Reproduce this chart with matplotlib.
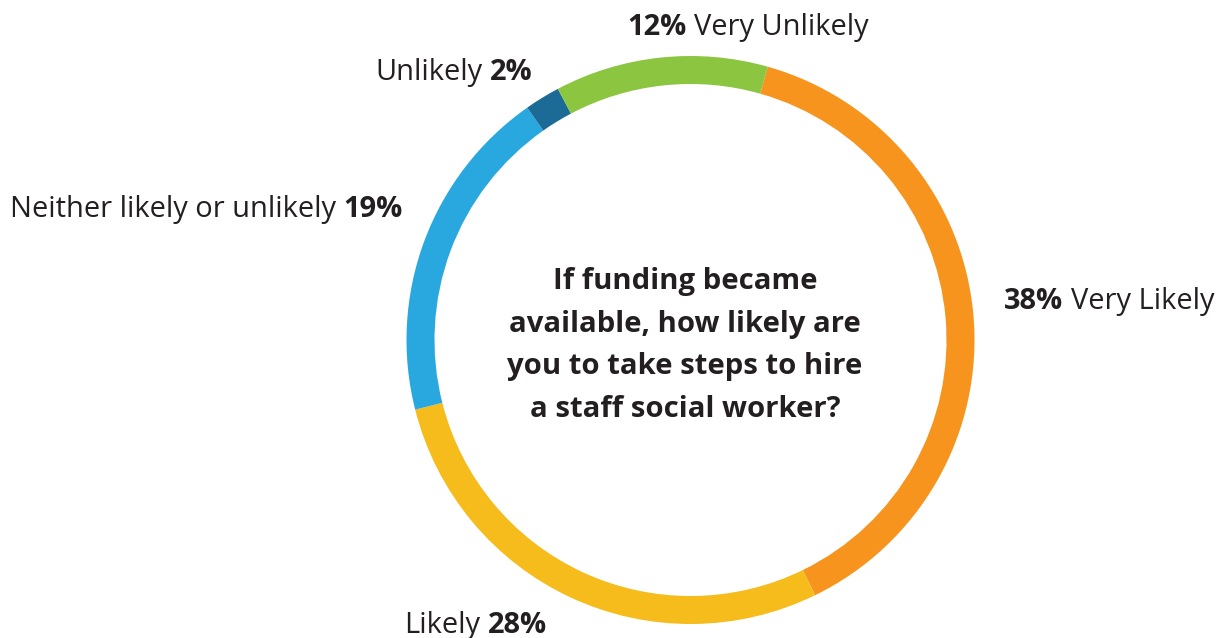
import matplotlib
matplotlib.use("Agg")
import matplotlib.pyplot as plt

# Survey responses
categories = ["Very Likely", "Likely", "Neither likely or unlikely", "Unlikely", "Very Unlikely"]
shares = [38, 28, 19, 2, 12]
colors = ["#F7941E", "#F5BC1C", "#29A8E0", "#1C6A96", "#8CC540"]
question = ["If funding became", "available, how likely are",
            "you to take steps to hire", "a staff social worker?"]

W, H = 1220, 638
fig = plt.figure(figsize=(W / 100, H / 100), dpi=100)
ax = fig.add_axes([0, 0, 1, 1])

cx, cy, R, ring = 690.5, 340, 284, 28
ax.pie(shares, colors=colors, startangle=74.2, counterclock=False,
       radius=R, center=(cx, H - cy),
       wedgeprops=dict(width=ring, edgecolor="none", linewidth=0))
ax.set_xlim(0, W)
ax.set_ylim(0, H)
ax.set_aspect("equal")
ax.axis("off")

FAM = ["Open Sans", "DejaVu Sans"]
INK = "#231F20"
LABEL_PT = 20.9
CENTER_PT = 21.1

fig.canvas.draw()
renderer = fig.canvas.get_renderer()


def two_part(x, y, first, second, first_bold):
    """Draw a label made of two runs (one bold) on a shared baseline."""
    w1 = "bold" if first_bold else "normal"
    w2 = "normal" if first_bold else "bold"
    t1 = ax.text(x, H - y, first, family=FAM, fontsize=LABEL_PT, fontweight=w1,
                 color=INK, ha="left", va="baseline")
    bb = t1.get_window_extent(renderer)
    gap = 0.26 * LABEL_PT / 0.72
    ax.text(bb.x1 + gap, H - y, second, family=FAM, fontsize=LABEL_PT,
            fontweight=w2, color=INK, ha="left", va="baseline")


two_part(627, 35, f"{shares[4]}%", categories[4], True)
two_part(375, 80, categories[3], f"{shares[3]}%", False)
two_part(10, 217, categories[2], f"{shares[2]}%", False)
two_part(1004, 309, f"{shares[0]}%", categories[0], True)
two_part(404, 633, categories[1], f"{shares[1]}%", False)

baselines = [289.5, 331.8, 374.2, 416.6]
for line, yb in zip(question, baselines):
    ax.text(685, H - yb, line, family=FAM, fontsize=CENTER_PT, fontweight="bold",
            color=INK, ha="center", va="baseline")

fig.savefig("out.png", dpi=100)
